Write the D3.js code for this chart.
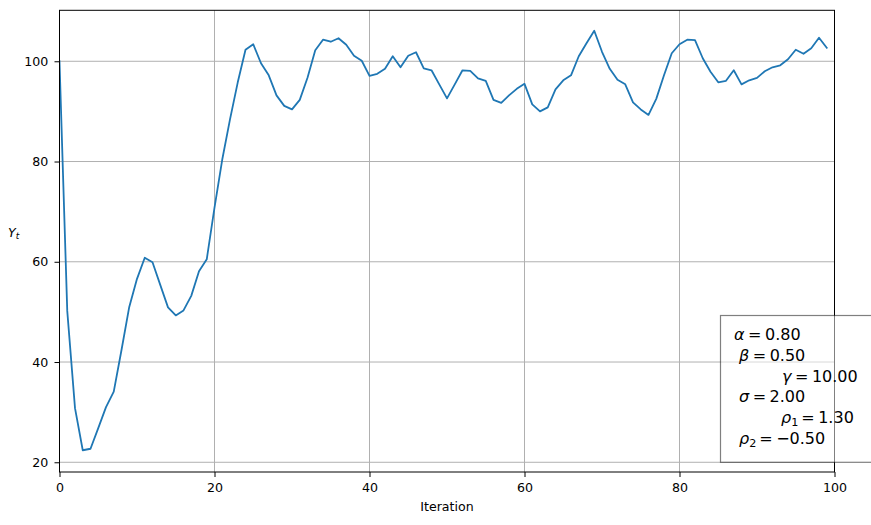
<!DOCTYPE html>
<html>
<head>
<meta charset="utf-8">
<script src="https://cdn.jsdelivr.net/npm/d3@7"></script>
<style>
  html, body { margin: 0; padding: 0; background: #fff; }
  svg { display: block; font-family: "DejaVu Sans", sans-serif; }
</style>
</head>
<body>
<svg id="chart" width="871" height="525"></svg>
<script>
// ---- data ----
const iterations = d3.range(0, 100);
const yValues = [
  100.0, 50.2, 30.8, 22.4, 22.7, 26.8, 31.0, 34.1, 42.4, 51.0,
  56.6, 60.8, 59.9, 55.4, 50.9, 49.3, 50.3, 53.2, 58.1, 60.5,
  70.8, 80.4, 88.4, 95.8, 102.3, 103.4, 99.6, 97.2, 93.2, 91.1,
  90.4, 92.3, 96.7, 102.2, 104.3, 103.9, 104.6, 103.3, 101.1, 100.1,
  97.1, 97.5, 98.5, 101.0, 98.8, 101.1, 101.8, 98.6, 98.2, 95.4,
  92.6, 95.4, 98.2, 98.1, 96.6, 96.1, 92.3, 91.7, 93.2, 94.5,
  95.5, 91.4, 90.0, 90.8, 94.4, 96.2, 97.2, 101.0, 103.6, 106.1,
  101.9, 98.5, 96.3, 95.4, 91.8, 90.4, 89.3, 92.5, 97.2, 101.6,
  103.4, 104.3, 104.2, 100.6, 97.9, 95.8, 96.1, 98.2, 95.4, 96.2,
  96.7, 98.0, 98.8, 99.2, 100.4, 102.3, 101.5, 102.6, 104.7, 102.7
];
const xTicks = [0, 20, 40, 60, 80, 100];
const yTicks = [20, 40, 60, 80, 100];
const paramSymbols = ["α", "β", "γ", "σ", "ρ", "ρ"];
const paramSubs = ["", "", "", "", "1", "2"];
const paramValues = ["0.80", "0.50", "10.00", "2.00", "1.30", "\u22120.50"];
const xLabel = "Iteration";

// ---- layout ----
const svg = d3.select("#chart");
const L = 59.5, R = 834.5, T = 10.3, B = 472;
const x = d3.scaleLinear().domain([0, 100]).range([L, R]);
const y = d3.scaleLinear().domain([18.06, 110.17]).range([B, T]);

// grid
const grid = svg.append("g");
grid.selectAll("line.gx").data(xTicks).join("line")
  .attr("x1", d => x(d)).attr("x2", d => x(d))
  .attr("y1", T).attr("y2", B)
  .attr("stroke", "#b0b0b0").attr("stroke-width", 1);
grid.selectAll("line.gy").data(yTicks).join("line")
  .attr("x1", L).attr("x2", R)
  .attr("y1", d => y(d)).attr("y2", d => y(d))
  .attr("stroke", "#b0b0b0").attr("stroke-width", 1);

// line
const line = d3.line().x((d, i) => x(iterations[i])).y(d => y(d));
svg.append("defs").append("clipPath").attr("id", "clip")
  .append("rect").attr("x", L).attr("y", T).attr("width", R - L).attr("height", B - T);
svg.append("path").datum(yValues)
  .attr("clip-path", "url(#clip)")
  .attr("d", line)
  .attr("fill", "none")
  .attr("stroke", "#1f77b4")
  .attr("stroke-width", 1.8)
  .attr("stroke-linejoin", "round")
  .attr("stroke-linecap", "square");

// axes
const xAxis = svg.append("g").attr("transform", `translate(0,${B})`)
  .call(d3.axisBottom(x).tickValues(xTicks).tickFormat(d3.format("d")).tickSize(5).tickPadding(6.3));
const yAxis = svg.append("g").attr("transform", `translate(${L},0)`)
  .call(d3.axisLeft(y).tickValues(yTicks).tickFormat(d3.format("d")).tickSize(5).tickPadding(6.3));
[xAxis, yAxis].forEach(a => {
  a.select(".domain").remove();
  a.selectAll("text").attr("font-family", "DejaVu Sans").attr("font-size", 12.6).attr("fill", "#000");
  a.selectAll("line").attr("stroke", "#000").attr("stroke-width", 1);
});

// spines
svg.append("rect").attr("x", L).attr("y", T).attr("width", R - L).attr("height", B - T)
  .attr("fill", "none").attr("stroke", "#000").attr("stroke-width", 1);

// labels
svg.append("text").attr("x", (L + R) / 2).attr("y", 511)
  .attr("text-anchor", "middle").attr("font-size", 12.6).text(xLabel);
const yl = svg.append("text").attr("x", 8).attr("y", 236.5).attr("font-size", 12.6);
yl.append("tspan").attr("font-style", "italic").text("Y");
yl.append("tspan").attr("font-style", "italic").attr("font-size", 9).attr("dy", 2.5).text("t");

// parameter box
svg.append("rect")
  .attr("x", 720.5).attr("y", 315.5).attr("width", 200).attr("height", 146.8)
  .attr("fill", "#fff").attr("fill-opacity", 0.5)
  .attr("stroke", "#000").attr("stroke-opacity", 0.5).attr("stroke-width", 1.2);

const boxX = [734, 739, 782, 739, 781, 739];
const boxY = [340, 361, 381.7, 401.8, 422.5, 443.6];
paramSymbols.forEach((s, i) => {
  const t = svg.append("text").attr("x", boxX[i]).attr("y", boxY[i])
    .attr("font-size", 16).attr("fill", "#000");
  t.append("tspan").attr("font-style", "italic").text(s);
  if (paramSubs[i]) {
    t.append("tspan").attr("font-size", 11.2).attr("dy", 3).text(paramSubs[i]);
    t.append("tspan").attr("dy", -3).attr("dx", 3).text("=");
  } else {
    t.append("tspan").attr("dx", 3.5).text("=");
  }
  t.append("tspan").attr("dx", 3.5).text(paramValues[i]);
});
</script>
</body>
</html>
